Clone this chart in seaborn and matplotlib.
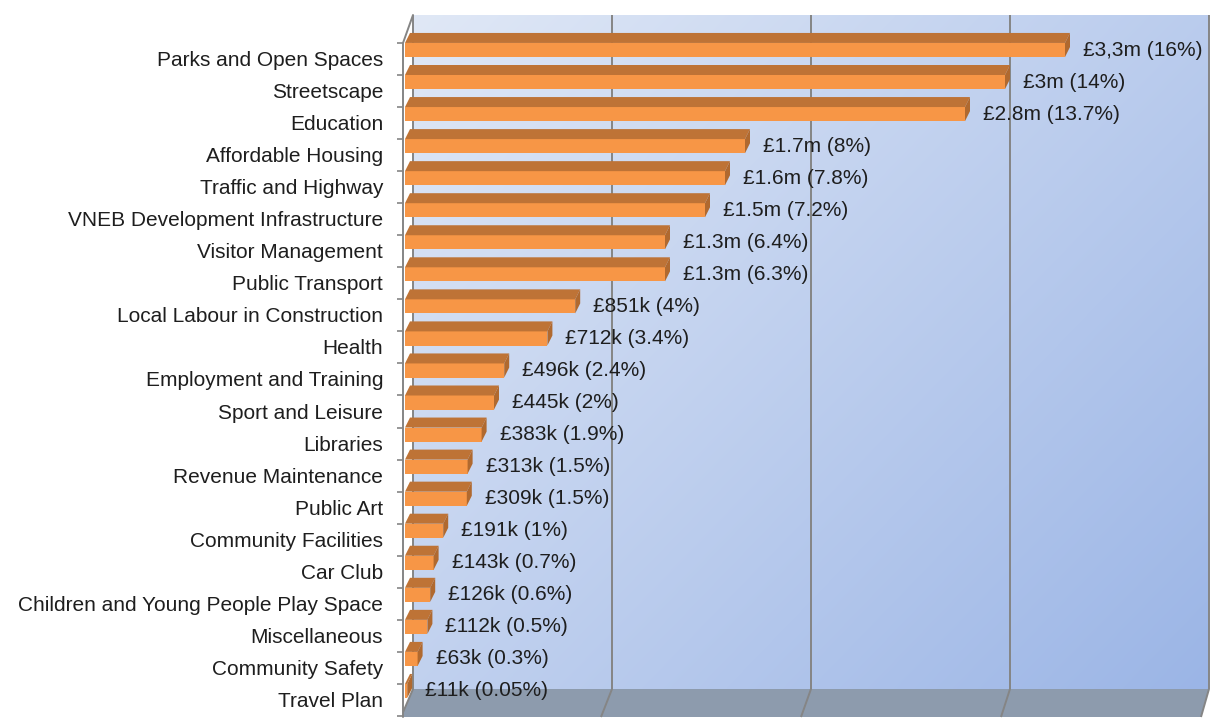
import numpy as np
import pandas as pd
import matplotlib
matplotlib.use('Agg')
import matplotlib.pyplot as plt
import matplotlib.transforms as mtransforms
from matplotlib.patches import Polygon
import seaborn as sns

categories = [
    "Parks and Open Spaces", "Streetscape", "Education", "Affordable Housing",
    "Traffic and Highway", "VNEB Development Infrastructure", "Visitor Management",
    "Public Transport", "Local Labour in Construction", "Health",
    "Employment and Training", "Sport and Leisure", "Libraries",
    "Revenue Maintenance", "Public Art", "Community Facilities", "Car Club",
    "Children and Young People Play Space", "Miscellaneous", "Community Safety",
    "Travel Plan",
]
# £ millions
values = [3.3, 3.0, 2.8, 1.7, 1.6, 1.5, 1.3, 1.3, 0.851, 0.712, 0.496, 0.445,
          0.383, 0.313, 0.309, 0.191, 0.143, 0.126, 0.112, 0.063, 0.011]
value_labels = [
    "£3,3m (16%)", "£3m (14%)", "£2.8m (13.7%)", "£1.7m (8%)", "£1.6m (7.8%)",
    "£1.5m (7.2%)", "£1.3m (6.4%)", "£1.3m (6.3%)", "£851k (4%)", "£712k (3.4%)",
    "£496k (2.4%)", "£445k (2%)", "£383k (1.9%)", "£313k (1.5%)", "£309k (1.5%)",
    "£191k (1%)", "£143k (0.7%)", "£126k (0.6%)", "£112k (0.5%)", "£63k (0.3%)",
    "£11k (0.05%)",
]

df = pd.DataFrame({"category": categories, "value": values})

sns.set_theme(style="white")
plt.rcParams['font.family'] = ['Liberation Sans', 'DejaVu Sans']
FS = 15
TXT = '#1e1e1e'

W, H = 1212, 718
fig = plt.figure(figsize=(W / 100, H / 100), dpi=100)
left_px, right_px, top_px, bot_px = 403, 1212, 10, 718
ax = fig.add_axes([left_px / W, 1 - bot_px / H,
                   (right_px - left_px) / W, (bot_px - top_px) / H])

# pixel -> data helper (value 0 at x=405, 200px per £1m; rows 32px apart)
X0, XS = 405, 200.0
Y0, YS = 50, 32.05
def px(x, y):
    return (x - X0) / XS, (y - Y0) / YS

# bars (front faces)
sns.barplot(data=df, x="value", y="category", orient="h", color="#F79646",
            saturation=1, width=0.44, ax=ax, zorder=4, linewidth=0)
bars = list(ax.patches)

# 3d faces of bars
dx, dy = 5 / XS, -10 / YS
for b in bars:
    x0, y0 = b.get_x(), b.get_y()
    w, h = b.get_width(), b.get_height()
    top = Polygon([(x0, y0), (x0 + w, y0), (x0 + w + dx, y0 + dy), (x0 + dx, y0 + dy)],
                  closed=True, fc='#BE7336', ec='none', zorder=4)
    side = Polygon([(x0 + w, y0), (x0 + w + dx, y0 + dy), (x0 + w + dx, y0 + h + dy), (x0 + w, y0 + h)],
                   closed=True, fc='#B0692F', ec='none', zorder=4)
    ax.add_patch(top)
    ax.add_patch(side)

# back wall with gradient
wx0, wy0 = px(413, 15)
wx1, wy1 = px(1209, 689)
g = np.linspace(0, 1, 256)
gx, gy = np.meshgrid(g, g)
t = gx * 0.55 + gy * 0.45
c0 = np.array([224, 232, 246]) / 255
c1 = np.array([155, 181, 230]) / 255
img = c0 + (c1 - c0) * t[..., None]
ax.imshow(img, extent=[wx0, wx1, wy1, wy0], origin='upper', aspect='auto',
          zorder=0, interpolation='bilinear')

# floor
floor = Polygon([px(413, 689), px(1209, 689), px(1201, 717), px(401, 717)],
                closed=True, fc='#8D9BAD', ec='none', zorder=1)
ax.add_patch(floor)

# gridlines on wall and floor
grid_kw = dict(color='#858585', lw=1.4, zorder=2, solid_capstyle='butt')
for v in range(5):
    xb = 413 + 199 * v
    xf = 401 + 200 * v
    a, b1 = px(xb, 15), px(xb, 689)
    c = px(xf, 717)
    ax.plot([a[0], b1[0], c[0]], [a[1], b1[1], c[1]], **grid_kw)

# left wall front edges
p1, p2, p3 = px(413, 15), px(403, 43), px(403, 717)
ax.plot([p1[0], p2[0], p3[0]], [p1[1], p2[1], p3[1]], color='#858585', lw=1.4,
        zorder=2, clip_on=False)

# value labels
for i, (v, lab) in enumerate(zip(values, value_labels)):
    ax.text(v + 18 / XS, i, lab, ha='left', va='center', fontsize=FS,
            color=TXT, zorder=6)

ax.set_xlim(px(left_px, 0)[0], px(right_px, 0)[0])
ax.set_ylim(px(0, bot_px)[1], px(0, top_px)[1])
ax.set_xticks([])
ax.set_xlabel("")
ax.set_ylabel("")
for s in ax.spines.values():
    s.set_visible(False)

n = len(categories)
ax.set_yticks(range(n))
ax.set_yticklabels(categories, fontsize=FS, color=TXT)
ax.set_yticks(np.arange(n + 1) - 0.22, minor=True)
ax.tick_params(axis='y', which='major', length=0, pad=14.4)
ax.tick_params(axis='y', which='minor', left=True, length=4, width=1.2,
               color='#858585', direction='out')
shift = mtransforms.ScaledTranslation(0, -8.5 / 100, fig.dpi_scale_trans)
for lab in ax.get_yticklabels():
    lab.set_transform(lab.get_transform() + shift)

fig.savefig("out.png", dpi=100, facecolor='white')
plt.close(fig)
